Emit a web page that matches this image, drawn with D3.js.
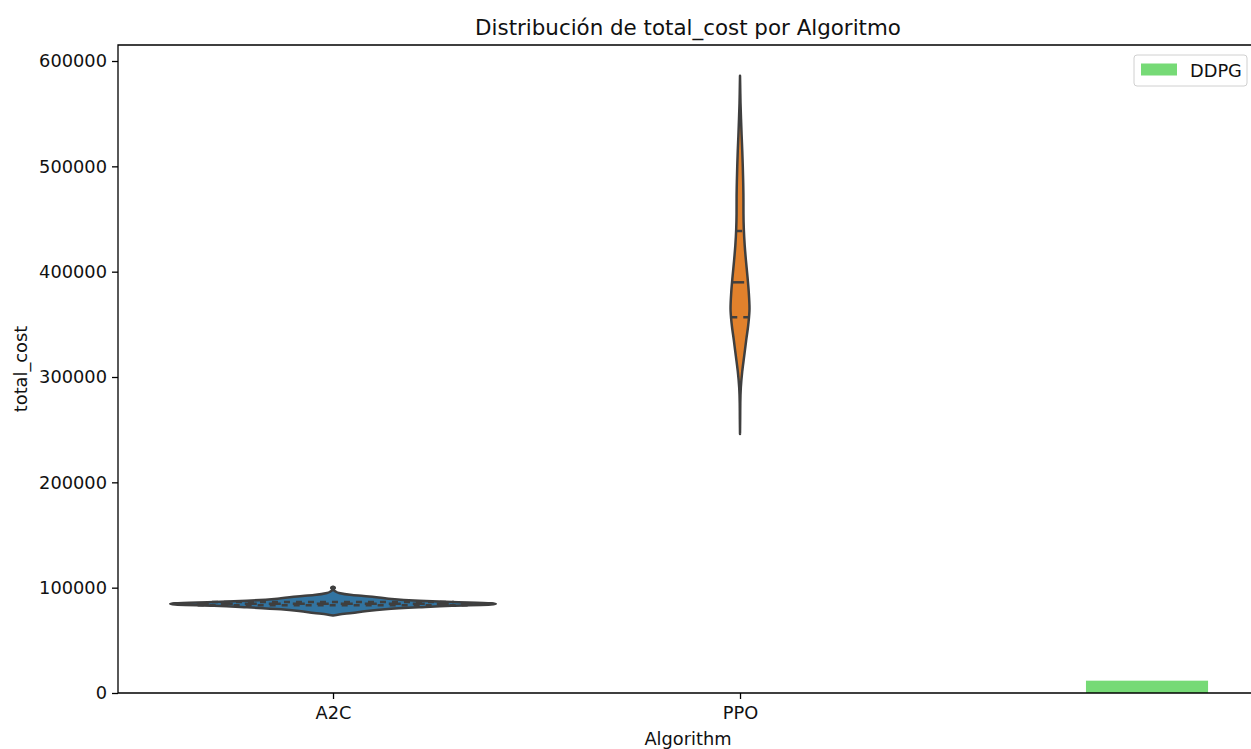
<!DOCTYPE html>
<html>
<head>
<meta charset="utf-8">
<script src="https://cdn.jsdelivr.net/npm/d3@7"></script>
<style>
  body { margin: 0; background: #fff; }
  svg { display: block; font-family: "DejaVu Sans", sans-serif; }
</style>
</head>
<body>
<svg id="chart" width="1251" height="749"></svg>
<script>
// ---- data ----------------------------------------------------------------
const algorithms = ["A2C", "PPO"];
const yTickValues = [0, 100000, 200000, 300000, 400000, 500000, 600000];

// A2C violin outline: cost levels and density half-widths (category units)
const a2cCost = [73600, 74500, 76000, 77900, 79500, 81400, 82900, 84000, 84700, 85200,
                 86400, 87600, 89900, 91600, 93000, 95000, 96400, 97300, 98200, 99000,
                 99800, 100500, 101000];
const a2cHalfWidth = [0, 0.0147, 0.0467, 0.0835, 0.1278, 0.2113, 0.2924, 0.3882, 0.4, 0.3882,
                      0.2924, 0.2113, 0.1278, 0.0885, 0.0467, 0.0147, 0.0061, 0.0025, 0.0015, 0.0029,
                      0.0044, 0.0037, 0];
const a2cQuartiles = [83400, 84800, 86300];

// PPO violin outline
const ppoCost = [246000, 260000, 275000, 290000, 305000, 320000, 335000, 350000, 365000, 380000,
                 395000, 410000, 425000, 440000, 455000, 470000, 485000, 500000, 515000, 530000,
                 545000, 560000, 575000, 586000];
const ppoHalfWidth = [0, 0.0004, 0.0007, 0.0020, 0.0054, 0.0103, 0.0152, 0.0204, 0.0233, 0.0216,
                      0.0184, 0.0147, 0.0115, 0.0094, 0.0085, 0.0084, 0.0078, 0.0068, 0.0055, 0.0039,
                      0.0025, 0.0012, 0.0005, 0];
const ppoQuartiles = [356700, 389900, 438600];

// DDPG bar
const barLabels = ["DDPG"];
const barCost = [11700];
const barPosition = [2];

const violinColors = ["#3274a1", "#e1812c"];
const barColor = "#76da76";
const edgeGray = "#3f3f3f";

// ---- layout --------------------------------------------------------------
const svg = d3.select("#chart");
const frame = { left: 118, right: 1258, top: 45, bottom: 693 };

const x = d3.scaleLinear().domain([-0.5283, 2.2727]).range([frame.left, frame.right]);
const y = d3.scaleLinear().domain([0, 615200]).range([frame.bottom, frame.top]);

const plot = svg.append("g");

// ---- violins -------------------------------------------------------------
const violins = [
  { center: 0, cost: a2cCost, hw: a2cHalfWidth, q: a2cQuartiles, color: violinColors[0] },
  { center: 1, cost: ppoCost, hw: ppoHalfWidth, q: ppoQuartiles, color: violinColors[1] }
];

const area = d3.area()
  .y(d => y(d.v))
  .x0(d => x(d.c - d.w))
  .x1(d => x(d.c + d.w))
  .curve(d3.curveMonotoneY);

violins.forEach(vn => {
  const pts = vn.cost.map((v, i) => ({ v, w: vn.hw[i], c: vn.center }));
  plot.append("path")
    .attr("d", area(pts))
    .attr("fill", vn.color)
    .attr("stroke", edgeGray)
    .attr("stroke-width", 2.5)
    .attr("stroke-linejoin", "round");

  // quartile lines (median with longer dashes), clipped to the density width
  const widthAt = d3.scaleLinear().domain(vn.cost).range(vn.hw);
  vn.q.forEach((qv, k) => {
    const w = widthAt(qv) * 0.99;
    plot.append("line")
      .attr("x1", x(vn.center - w)).attr("x2", x(vn.center + w))
      .attr("y1", y(qv)).attr("y2", y(qv))
      .attr("stroke", edgeGray)
      .attr("stroke-width", 2.5)
      .attr("stroke-dasharray", k === 1 ? "12,12" : "6,6");
  });
});

// ---- bar -----------------------------------------------------------------
const barWidth = 0.3;
plot.selectAll("rect.bar").data(barCost).join("rect")
  .attr("class", "bar")
  .attr("x", (d, i) => x(barPosition[i] - barWidth / 2))
  .attr("width", (d, i) => x(barPosition[i] + barWidth / 2) - x(barPosition[i] - barWidth / 2))
  .attr("y", d => y(d))
  .attr("height", d => y(0) - y(d))
  .attr("fill", barColor);

// ---- axes ----------------------------------------------------------------
const fontSize = 17.8;
const yAxis = svg.append("g")
  .attr("transform", `translate(${frame.left},0)`)
  .call(d3.axisLeft(y).tickValues(yTickValues).tickFormat(d3.format("d")).tickSize(6).tickPadding(5));
const xAxis = svg.append("g")
  .attr("transform", `translate(0,${frame.bottom})`)
  .call(d3.axisBottom(x).tickValues(algorithms.map((a, i) => i))
    .tickFormat(i => algorithms[i]).tickSize(6).tickPadding(7));

[yAxis, xAxis].forEach(g => {
  g.select(".domain").remove();
  g.selectAll(".tick line").attr("stroke", "#000").attr("stroke-width", 1.3);
  g.selectAll(".tick text").attr("fill", "#111").style("font-size", fontSize + "px")
    .style("font-family", '"DejaVu Sans", sans-serif');
});

// spines: left, top, bottom
svg.append("path")
  .attr("d", `M${frame.right},${frame.top}H${frame.left}V${frame.bottom}H${frame.right}`)
  .attr("fill", "none").attr("stroke", "#000").attr("stroke-width", 1.3);

// ---- labels --------------------------------------------------------------
const midX = (frame.left + frame.right) / 2;
svg.append("text")
  .attr("x", midX).attr("y", 35)
  .attr("text-anchor", "middle").style("font-size", "21.4px").attr("fill", "#111")
  .text("Distribución de total_cost por Algoritmo");

svg.append("text")
  .attr("x", midX).attr("y", 745)
  .attr("text-anchor", "middle").style("font-size", fontSize + "px").attr("fill", "#111")
  .text("Algorithm");

svg.append("text")
  .attr("transform", `translate(27,${(frame.top + frame.bottom) / 2}) rotate(-90)`)
  .attr("text-anchor", "middle").style("font-size", fontSize + "px").attr("fill", "#111")
  .text("total_cost");

// ---- legend --------------------------------------------------------------
const legend = svg.append("g").attr("transform", "translate(1134,55)");
legend.append("rect")
  .attr("width", 113).attr("height", 31).attr("rx", 3)
  .attr("fill", "#fff").attr("fill-opacity", 0.8)
  .attr("stroke", "#d0d0d0").attr("stroke-width", 1);
legend.selectAll("rect.key").data(barLabels).join("rect")
  .attr("class", "key")
  .attr("x", 7).attr("y", 8.5).attr("width", 36).attr("height", 12)
  .attr("fill", barColor);
legend.selectAll("text.key").data(barLabels).join("text")
  .attr("class", "key")
  .attr("x", 56).attr("y", 21.5)
  .style("font-size", fontSize + "px").attr("fill", "#111")
  .text(d => d);
</script>
</body>
</html>
